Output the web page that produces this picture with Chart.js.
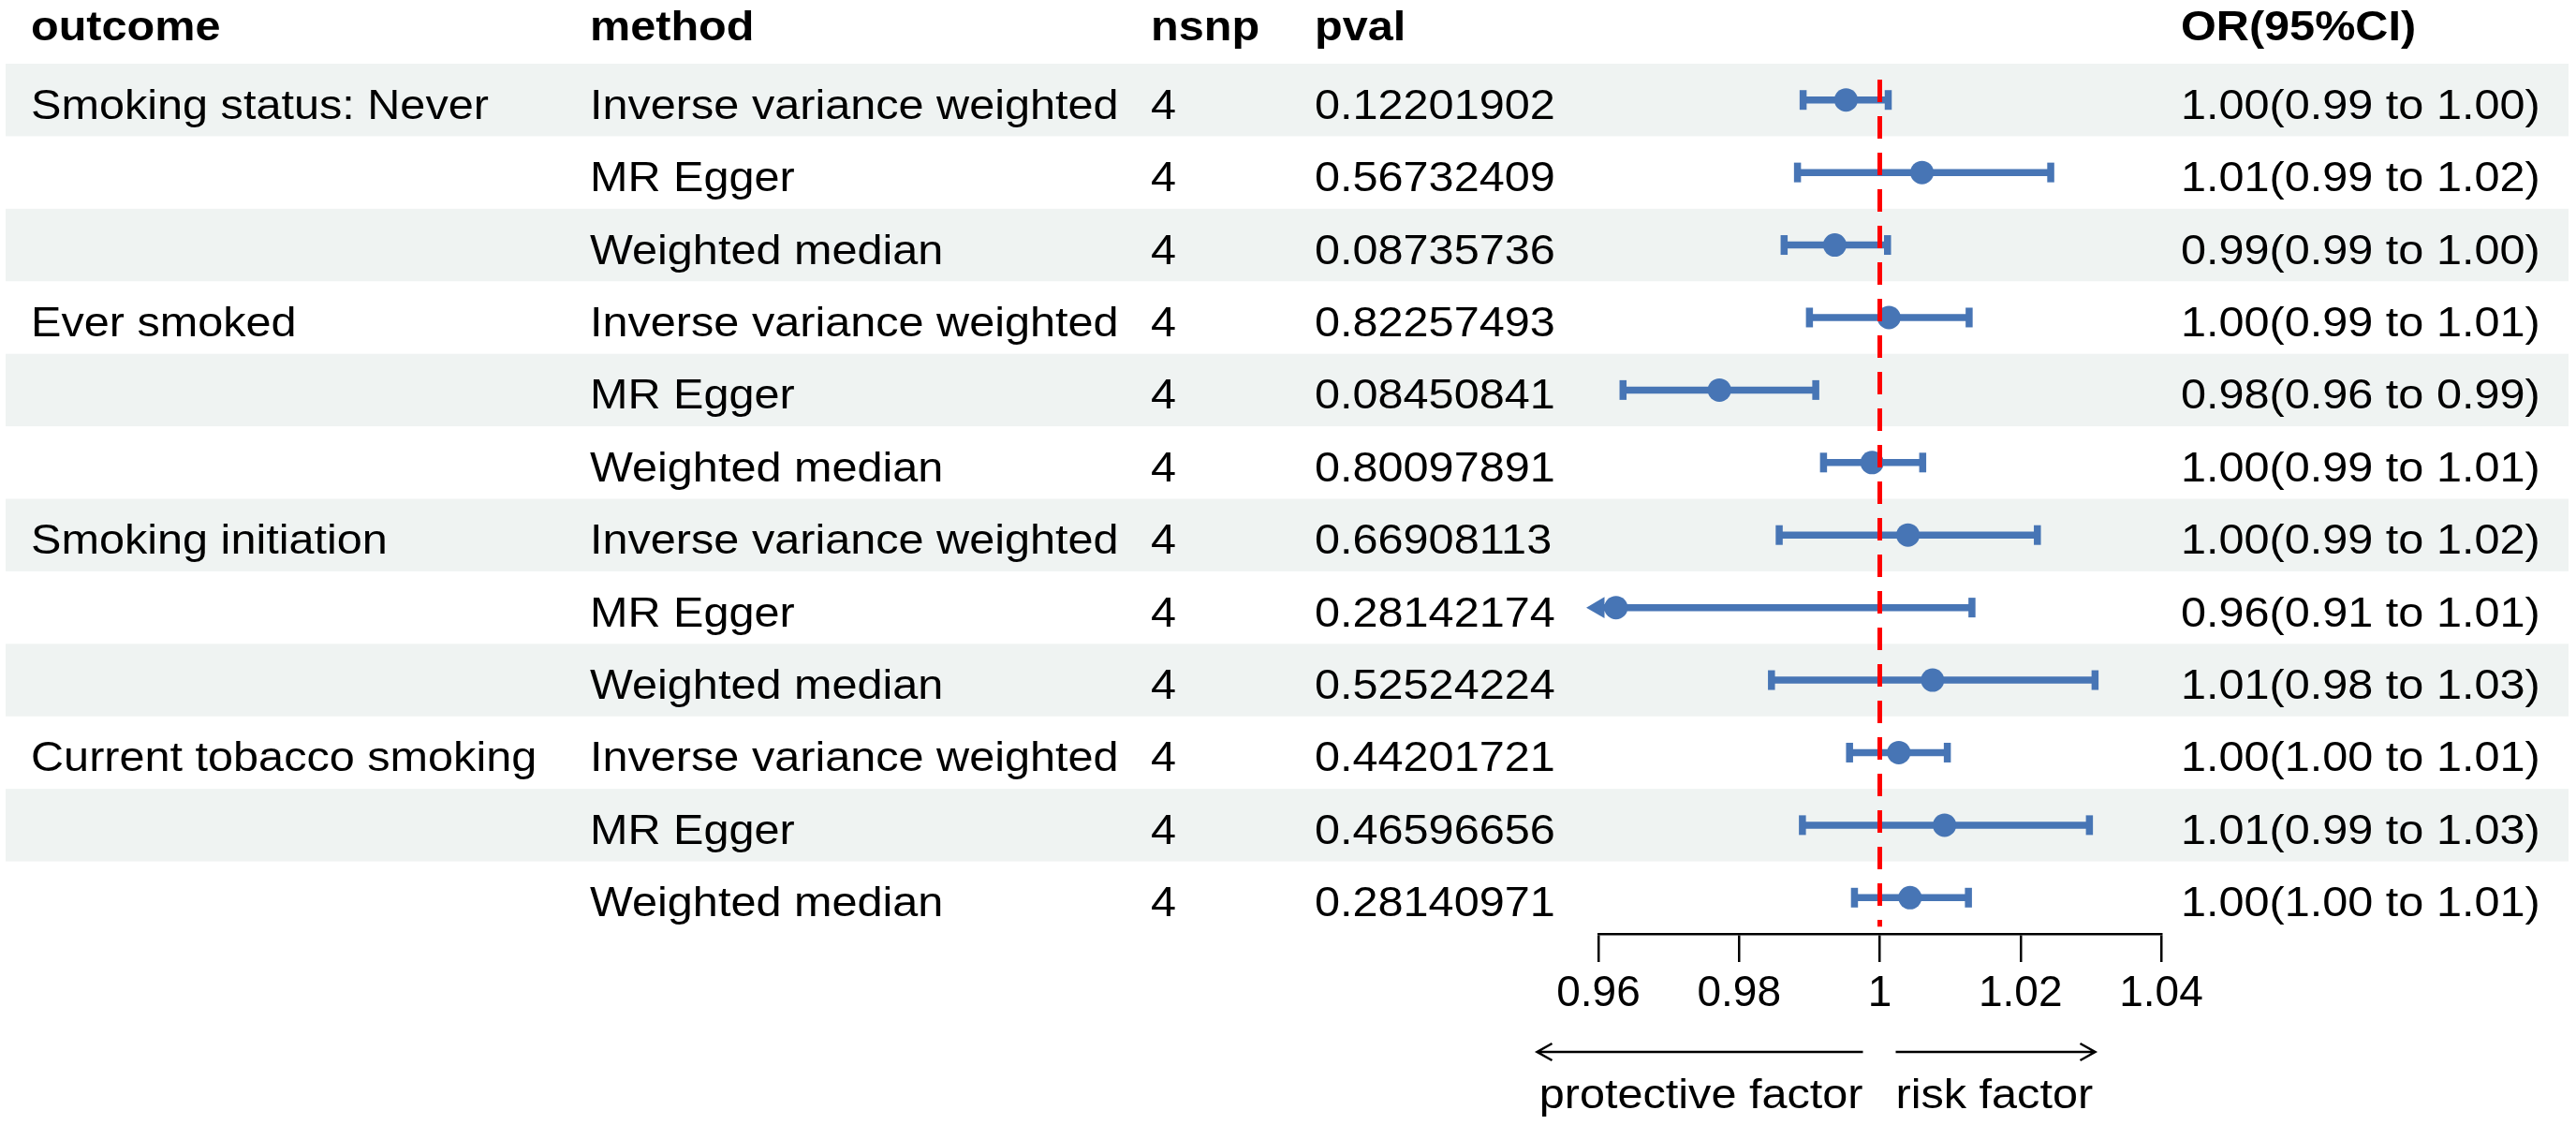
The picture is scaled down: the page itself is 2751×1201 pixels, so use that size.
<!DOCTYPE html>
<html>
<head>
<meta charset="utf-8">
<title>Forest plot</title>
<script src="https://cdn.jsdelivr.net/npm/chart.js@4/dist/chart.umd.min.js"></script>
<style>
  html, body { margin: 0; padding: 0; background: #fff; overflow: hidden; }
  canvas { display: block; }
</style>
</head>
<body>
<canvas id="forest" width="2751" height="1201" style="width:2751px;height:1201px"></canvas>
<script>
// Table columns (one entry per row)
const outcomes = ['Smoking status: Never', '', '', 'Ever smoked', '', '', 'Smoking initiation', '', '', 'Current tobacco smoking', '', ''];
const methods = ['Inverse variance weighted', 'MR Egger', 'Weighted median',
                 'Inverse variance weighted', 'MR Egger', 'Weighted median',
                 'Inverse variance weighted', 'MR Egger', 'Weighted median',
                 'Inverse variance weighted', 'MR Egger', 'Weighted median'];
const nsnp = [4, 4, 4, 4, 4, 4, 4, 4, 4, 4, 4, 4];
const pvals = ['0.12201902', '0.56732409', '0.08735736', '0.82257493', '0.08450841', '0.80097891',
               '0.66908113', '0.28142174', '0.52524224', '0.44201721', '0.46596656', '0.28140971'];
const orLabels = ['1.00(0.99 to 1.00)', '1.01(0.99 to 1.02)', '0.99(0.99 to 1.00)',
                  '1.00(0.99 to 1.01)', '0.98(0.96 to 0.99)', '1.00(0.99 to 1.01)',
                  '1.00(0.99 to 1.02)', '0.96(0.91 to 1.01)', '1.01(0.98 to 1.03)',
                  '1.00(1.00 to 1.01)', '1.01(0.99 to 1.03)', '1.00(1.00 to 1.01)'];

// Estimates
const est = [0.9952, 1.0060, 0.9936, 1.0013, 0.9772, 0.9989, 1.0040, 0.9625, 1.0075, 1.0027, 1.0092, 1.0043];
const lower = [0.9891, 0.9883, 0.9864, 0.9900, 0.9635, 0.9920, 0.9857, 0.9100, 0.9846, 0.9957, 0.9890, 0.9964];
const upper = [1.0012, 1.0243, 1.0011, 1.0127, 0.9909, 1.0061, 1.0224, 1.0131, 1.0306, 1.0096, 1.0298, 1.0126];

const xTicks = [0.96, 0.98, 1, 1.02, 1.04];
const headers = ['outcome', 'method', 'nsnp', 'pval', 'OR(95%CI)'];

const blue = '#4775b5';
const red = '#ff0000';
const shade = '#eff3f2';
const family = '"Liberation Sans", Arial, Helvetica, sans-serif';
const xMin = xTicks[0];
const xMax = xTicks[xTicks.length - 1];

// column left edges (px) and horizontal text stretch
const colX = [33, 630, 1229, 1404, 2329];
const stretch = 1.08;

function drawText(ctx, str, x, y, bold, align) {
    ctx.save();
    ctx.translate(x, y);
    ctx.scale(stretch, 1);
    ctx.font = (bold ? 'bold ' : '') + '45px ' + family;
    ctx.textAlign = align || 'left';
    ctx.textBaseline = 'alphabetic';
    ctx.fillStyle = '#000';
    ctx.fillText(str, 0, 0);
    ctx.restore();
}

// Table, row shading and the protective / risk arrows
const tablePlugin = {
    id: 'forestTable',
    beforeDraw(chart) {
        const ctx = chart.ctx;
        const ys = chart.scales.y;
        const xs = chart.scales.x;

        ctx.save();
        ctx.fillStyle = '#fff';
        ctx.fillRect(0, 0, chart.width, chart.height);

        // zebra rows
        for (let i = 0; i < methods.length; i++) {
            if (i % 2 === 0) {
                const top = ys.getPixelForValue(i + 0.5);
                const bottom = ys.getPixelForValue(i + 1.5);
                ctx.fillStyle = shade;
                ctx.fillRect(6, top, 2737, bottom - top);
            }
        }

        // header
        headers.forEach((h, c) => drawText(ctx, h, colX[c], 43, true));

        // rows
        for (let i = 0; i < methods.length; i++) {
            const y = ys.getPixelForValue(i + 1) + 20;
            drawText(ctx, outcomes[i], colX[0], y);
            drawText(ctx, methods[i], colX[1], y);
            drawText(ctx, String(nsnp[i]), colX[2], y);
            drawText(ctx, pvals[i], colX[3], y);
            drawText(ctx, orLabels[i], colX[4], y);
        }

        // direction arrows under the axis
        const x1 = xs.getPixelForValue(1);
        const ay = 1123;
        ctx.strokeStyle = '#000';
        ctx.lineWidth = 2.5;
        ctx.beginPath();
        ctx.moveTo(x1 - 18, ay);
        ctx.lineTo(x1 - 366, ay);
        ctx.moveTo(x1 - 350, ay - 9);
        ctx.lineTo(x1 - 366, ay);
        ctx.lineTo(x1 - 350, ay + 9);
        ctx.moveTo(x1 + 17, ay);
        ctx.lineTo(x1 + 230, ay);
        ctx.moveTo(x1 + 214, ay - 9);
        ctx.lineTo(x1 + 230, ay);
        ctx.lineTo(x1 + 214, ay + 9);
        ctx.stroke();

        drawText(ctx, 'protective factor', x1 - 18, 1183, false, 'right');
        drawText(ctx, 'risk factor', x1 + 17, 1183, false, 'left');
        ctx.restore();
    }
};

// confidence interval segments, clipped to the axis range with an arrow
const ciDatasets = lower.map((lo, i) => {
    const clippedLo = lo < xMin;
    const clippedHi = upper[i] > xMax;
    return {
        type: 'line',
        data: [
            { x: Math.max(lo, xMin), y: i + 1 },
            { x: Math.min(upper[i], xMax), y: i + 1 }
        ],
        borderColor: blue,
        borderWidth: 7.5,
        pointStyle: [clippedLo ? 'triangle' : 'line', clippedHi ? 'triangle' : 'line'],
        rotation: [clippedLo ? 270 : 90, 90],
        pointRadius: [clippedLo ? 9 : 10.5, clippedHi ? 9 : 10.5],
        pointBorderWidth: [clippedLo ? 4 : 7.5, clippedHi ? 4 : 7.5],
        pointBorderColor: blue,
        pointBackgroundColor: blue,
        clip: false
    };
});

const ctx = document.getElementById('forest');
new Chart(ctx, {
    type: 'scatter',
    data: {
        datasets: [
            {
                // reference line at OR = 1
                type: 'line',
                data: [{ x: 1, y: 0.72 }, { x: 1, y: 12.4 }],
                borderColor: red,
                borderWidth: 5,
                borderDash: [24, 15],
                pointRadius: 0
            },
            {
                data: est.map((v, i) => ({ x: v, y: i + 1 })),
                backgroundColor: blue,
                borderWidth: 0,
                pointRadius: 12.5,
                clip: false
            },
            ...ciDatasets
        ]
    },
    options: {
        responsive: false,
        animation: false,
        devicePixelRatio: 1,
        layout: { padding: { left: 1707, right: 443, top: 68, bottom: 104 } },
        plugins: {
            legend: { display: false },
            tooltip: { enabled: false }
        },
        scales: {
            x: {
                type: 'linear',
                min: xMin,
                max: xMax,
                position: 'bottom',
                afterFit: function(scale) { scale.height = 100; },
                afterBuildTicks: function(scale) {
                    scale.ticks = xTicks.map(v => ({ value: v }));
                },
                grid: {
                    drawOnChartArea: false,
                    drawTicks: true,
                    tickLength: 30,
                    color: '#000',
                    lineWidth: 2.5
                },
                border: { display: true, color: '#000', width: 2.5 },
                ticks: {
                    color: '#000',
                    font: { family: family, size: 46 },
                    padding: 7,
                    maxRotation: 0,
                    autoSkip: false,
                    callback: function(value) {
                        return String(Number(value.toFixed(2)));
                    }
                }
            },
            y: {
                type: 'linear',
                min: 0.5,
                max: 12.5,
                reverse: true,
                display: false
            }
        }
    },
    plugins: [tablePlugin]
});
</script>
</body>
</html>
